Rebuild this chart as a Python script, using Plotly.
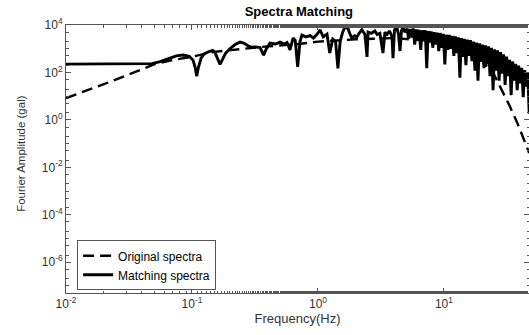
import plotly.graph_objects as go

# Matching spectra (solid)
match_f = [0.01, 0.02, 0.03, 0.04, 0.048, 0.055, 0.065, 0.075, 0.085, 0.095,
           0.102, 0.106, 0.109, 0.112, 0.118, 0.125, 0.135, 0.146, 0.152, 0.158,
           0.163, 0.167, 0.172, 0.185, 0.2, 0.22, 0.24, 0.26, 0.28, 0.30, 0.32,
           0.347, 0.37, 0.39, 0.416, 0.46, 0.50, 0.54, 0.568, 0.60, 0.634, 0.66,
           0.69, 0.72, 0.746, 0.80, 0.865, 0.92, 0.98, 1.04, 1.10, 1.18, 1.24,
           1.31, 1.38, 1.44, 1.50, 1.57, 1.64, 1.73, 1.80, 1.86, 1.95, 2.04, 2.12,
           2.23, 2.36, 2.45, 2.50, 2.65, 2.83, 2.95, 3.1, 3.28, 3.4, 3.53, 3.7,
           3.87, 3.94, 4.05, 4.24, 4.36, 4.48, 4.6, 4.73, 4.9,
           5.10, 5.24, 5.39, 5.54, 5.70, 5.86, 6.02, 6.19, 6.36, 6.54, 6.72, 6.91,
           7.10, 7.30, 7.50, 7.71, 7.93, 8.15, 8.38, 8.61, 8.85, 9.10, 9.35, 9.61,
           9.88, 10.16, 10.44, 10.73, 11.03, 11.34, 11.66, 11.98, 12.32, 12.66,
           13.01, 13.38, 13.75, 14.14, 14.53, 14.94, 15.35, 15.78, 16.22, 16.68,
           17.14, 17.62, 18.11, 18.62, 19.14, 19.67, 20.22, 20.79, 21.37, 21.97,
           22.58, 23.21, 23.86, 24.53, 25.21, 25.92, 26.64, 27.39, 28.15, 28.94,
           29.75, 30.58, 31.43, 32.31, 33.22, 34.14, 35.10, 36.08, 37.09, 38.13,
           39.19, 40.29, 41.41, 42.57, 43.76, 44.99, 46.24, 47.50]
match_a = [225, 226, 228, 230, 235, 280, 380, 500, 540, 480,
           330, 160, 70, 150, 400, 600, 740, 850, 700, 420,
           260, 220, 300, 650, 1000, 1500, 1900, 1700, 1300, 1150, 1200,
           1120, 540, 1000, 1740, 1580, 1900, 1580, 1820, 890, 2820, 2240,
           170, 2000, 3800, 3160, 3550, 2820, 3980, 6170, 3160, 4170, 660,
           2510, 2000, 150, 2000, 5000, 8300, 7080, 3980, 2820, 3550, 3160, 4470,
           6310, 3980, 450, 5010, 4470, 5620, 3980, 4470, 660, 5010, 3980, 5620,
           3160, 400, 6310, 7410, 3980, 800, 5620, 7940, 5010,
           7000, 2600, 6800, 3000, 7200, 1500, 6500, 2600, 6300, 900, 6000, 2400,
           6000, 150, 5600, 1800, 5400, 1100, 5000, 1500, 4800, 800, 4600, 1100,
           4200, 220, 3900, 900, 3800, 1000, 3500, 500, 3300, 650,
           3000, 60, 2800, 450, 2600, 200, 2400, 500, 2300, 300,
           2000, 120, 1800, 45, 1700, 280, 1500, 150, 1400, 220,
           1250, 70, 1100, 18, 950, 120, 850, 45, 720, 90,
           580, 30, 470, 70, 340, 11, 290, 45, 230, 18,
           195, 35, 155, 9, 125, 25, 100, 1.8]

# Original spectra (dashed)
orig_f = [0.01, 0.015, 0.02, 0.03, 0.04, 0.05, 0.07, 0.1, 0.15, 0.25, 0.4, 0.7,
          1, 2, 4, 7, 10, 15, 20, 25, 30, 33, 38, 42, 47.5]
orig_a = [8.3, 18, 32, 74, 135, 220, 330, 460, 740, 1000, 1260, 1580,
          2000, 2500, 2800, 2240, 1580, 800, 320, 80, 12.6, 4.2, 0.8, 0.2, 0.04]

# Tick labels
x_tickvals = [0.01, 0.1, 1, 10]
x_ticktext = ["10<sup>-2</sup>", "10<sup>-1</sup>", "10<sup>0</sup>", "10<sup>1</sup>"]
y_tickvals = [1e-6, 1e-4, 1e-2, 1, 1e2, 1e4]
y_ticktext = ["10<sup>-6</sup>", "10<sup>-4</sup>", "10<sup>-2</sup>", "10<sup>0</sup>",
              "10<sup>2</sup>", "10<sup>4</sup>"]

FONT = "Liberation Sans, Arial, Helvetica, sans-serif"
AX = "#555555"
TXT = "#333333"

fig = go.Figure()
fig.add_trace(go.Scatter(x=match_f, y=match_a, mode="lines", name="Matching spectra",
                         line=dict(color="black", width=2.9)))
fig.add_trace(go.Scatter(x=orig_f, y=orig_a, mode="lines", name="Original spectra",
                         line=dict(color="black", width=2.4, dash="11px,6px")))

axis_common = dict(
    type="log", showline=True, linecolor=AX, linewidth=1, mirror="ticks",
    ticks="inside", ticklen=5, tickcolor=AX, showgrid=False, zeroline=False,
    tickmode="array", tickfont=dict(family=FONT, size=12, color=TXT),
    minor=dict(ticks="inside", ticklen=2.5, tickcolor=AX, showgrid=False),
)

fig.update_xaxes(**axis_common, range=[-2, 1.675],
                 tickvals=x_tickvals, ticktext=x_ticktext,
                 title=dict(text="Frequency(Hz)", font=dict(family=FONT, size=13, color=TXT),
                            standoff=1))
fig.update_yaxes(**axis_common, range=[-7.3, 4],
                 tickvals=y_tickvals, ticktext=y_ticktext)

fig.add_annotation(text="Fourier Amplitude (gal)", textangle=-90,
                   xref="paper", yref="paper", x=-0.099, y=0.52,
                   xanchor="center", yanchor="middle", showarrow=False,
                   font=dict(family=FONT, size=11.5, color=TXT))

fig.update_layout(
    width=529, height=335,
    margin=dict(l=66, r=0, t=25, b=42),
    paper_bgcolor="white", plot_bgcolor="white",
    title=dict(text="<b>Spectra Matching</b>", x=0.565, xanchor="center", y=0.965, yanchor="middle",
               font=dict(family=FONT, size=13, color="black")),
    showlegend=True,
    legend=dict(x=0.024, y=0.01, xanchor="left", yanchor="bottom", traceorder="reversed",
                bgcolor="white", bordercolor=AX, borderwidth=1,
                font=dict(family=FONT, size=12, color="black"),
                tracegroupgap=0, itemwidth=30),
    font=dict(family=FONT),
)

fig.write_html("out.html")
